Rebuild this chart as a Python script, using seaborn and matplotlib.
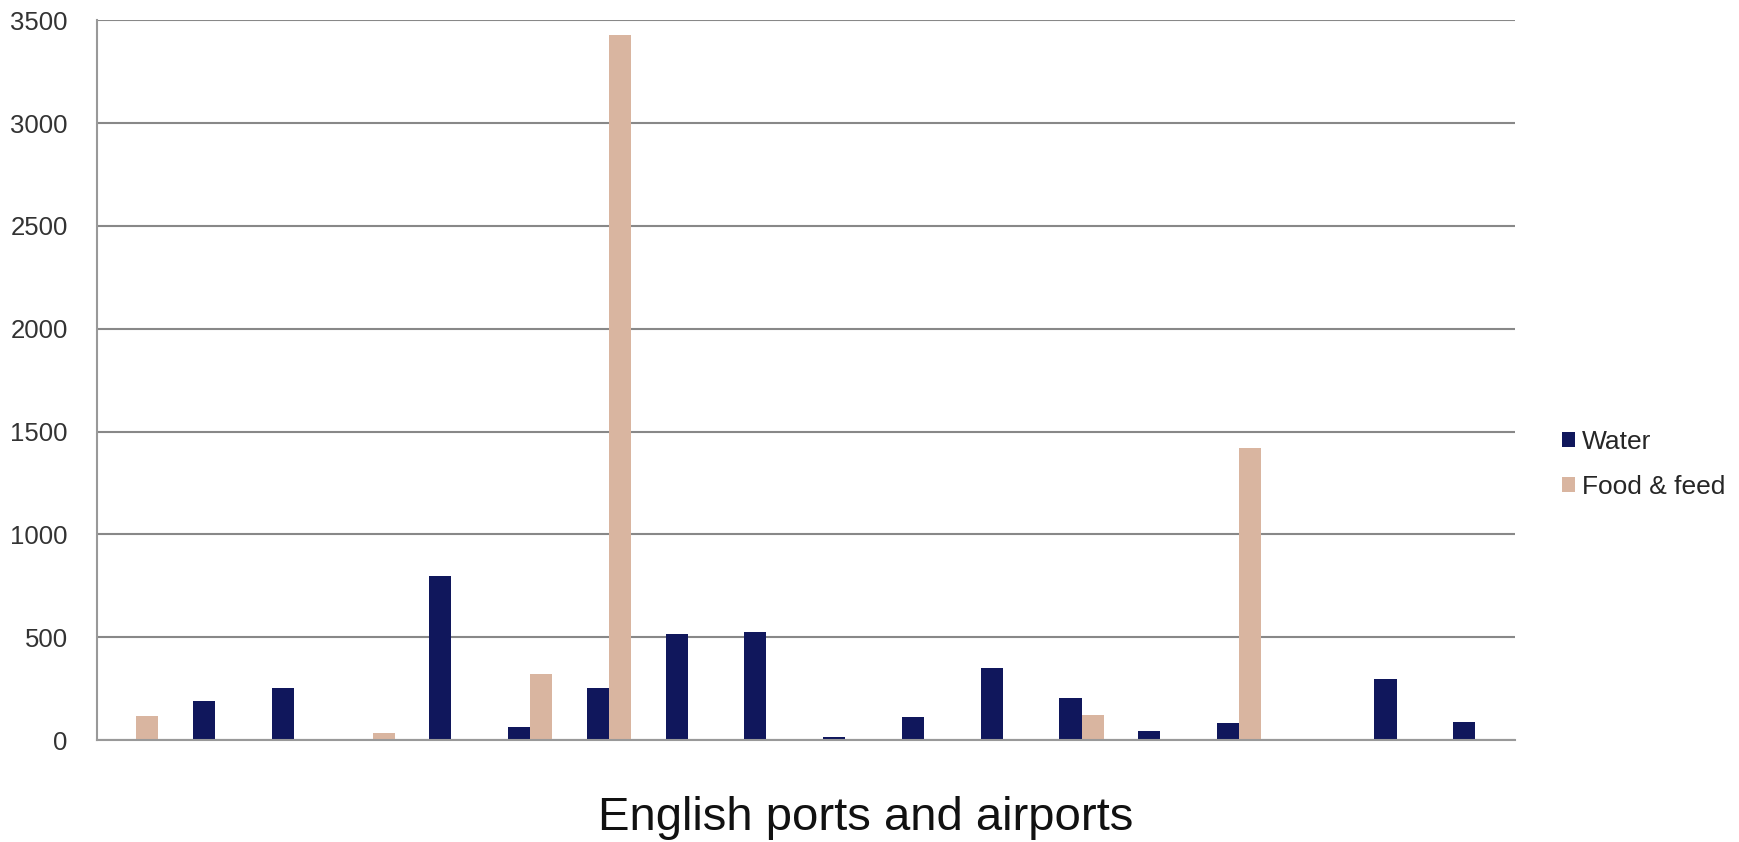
import numpy as np
import pandas as pd
import matplotlib
matplotlib.use('Agg')
import matplotlib.pyplot as plt
import seaborn as sns
from matplotlib.patches import Patch

# 数据
ports = [str(i) for i in range(1, 19)]
water = [0, 188, 253, 0, 797, 65, 252, 515, 528, 16, 114, 351, 203, 46, 82, 0, 296, 88]
food = [119, 0, 0, 33, 0, 320, 3430, 0, 0, 0, 0, 0, 121, 0, 1419, 0, 0, 0]
series = ['Water', 'Food & feed']
colors = ['#10175c', '#d9b5a0']

df = pd.DataFrame({'port': ports * 2,
                   'value': water + food,
                   'series': [series[0]] * len(ports) + [series[1]] * len(ports)})

sns.set_style('white')
plt.rcParams['font.family'] = ['Liberation Sans', 'DejaVu Sans']

fig = plt.figure(figsize=(17.39, 8.42), dpi=100)
ax = fig.add_axes([0.0558, 0.121, 0.8152, 0.855])

sns.barplot(data=df, x='port', y='value', hue='series', palette=colors,
            width=0.56, gap=0, saturation=1, legend=False, linewidth=0, ax=ax)

ax.set_ylim(0, 3500)
ax.set_yticks(np.arange(0, 3501, 500))
ax.set_xlim(-0.5, len(ports) - 0.5)
ax.grid(axis='y', color='#888888', linewidth=1.5)
ax.set_axisbelow(True)
ax.set_xticks([])
ax.set_xlabel('')
ax.set_ylabel('')
ax.tick_params(axis='y', length=0, labelsize=18.5, labelcolor='#333333', pad=21)
for s in ['top', 'right']:
    ax.spines[s].set_visible(False)
for s in ['left', 'bottom']:
    ax.spines[s].set_color('#999999')
    ax.spines[s].set_linewidth(1.5)

handles = [Patch(facecolor=c, edgecolor='none') for c in colors]
fig.legend(handles, series, loc='center left', bbox_to_anchor=(0.8845, 0.448),
           frameon=False, fontsize=19, handlelength=0.5, handleheight=0.5,
           handletextpad=0.25, labelspacing=0.8)

fig.text(0.498, 0.028, 'English ports and airports', ha='center', va='center',
         fontsize=34, color='#111111')

plt.savefig('out.png', dpi=100)
